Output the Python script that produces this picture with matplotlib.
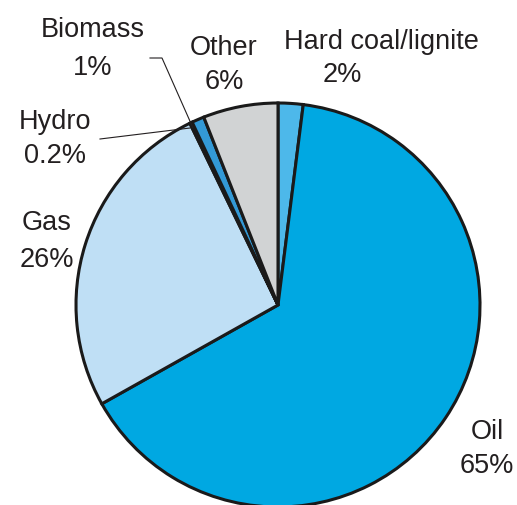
import matplotlib.pyplot as plt

# slices, clockwise from 12 o'clock
labels = ["Hard coal/lignite", "Oil", "Gas", "Hydro", "Biomass", "Other"]
shares = [2, 65, 26, 0.2, 1, 6]
share_txt = ["2%", "65%", "26%", "0.2%", "1%", "6%"]
colors = ["#4db8ea", "#00a8e2", "#bfdff5", "#1a1a1a", "#3399d6", "#d1d3d4"]

plt.rcParams['font.family'] = ['Liberation Sans', 'DejaVu Sans']

fig = plt.figure(figsize=(5.17, 5.05), dpi=100)
ax = fig.add_axes([0, 0, 1, 1])

# pie drawn in pixel coords; y axis flipped so go counterclockwise to look clockwise
ax.pie(shares, colors=colors, startangle=-90, counterclock=True,
       center=(278, 305), radius=202, frame=True,
       wedgeprops=dict(edgecolor='#1a1a1a', linewidth=2.2))
ax.set_xlim(0, 517)
ax.set_ylim(505, 0)
ax.set_aspect('equal')
ax.axis('off')

fs = 19.5
pos = {
    "Hard coal/lignite": ((381, 42), (342, 75)),
    "Oil": ((487, 432), (487, 466)),
    "Gas": ((47, 223), (47, 260)),
    "Hydro": ((55, 122), (55, 156)),
    "Biomass": ((93, 30), (93, 68)),
    "Other": ((224, 48), (224, 82)),
}
for lab, txt in zip(labels, share_txt):
    (x1, y1), (x2, y2) = pos[lab]
    ax.text(x1, y1, lab, ha='center', va='center', fontsize=fs, color='#231f20')
    ax.text(x2, y2, txt, ha='center', va='center', fontsize=fs, color='#231f20')

# leader lines
ax.plot([100, 190], [139, 128], color='#231f20', lw=0.8)
ax.plot([150, 162, 193], [58, 58, 128], color='#231f20', lw=0.8)

fig.savefig('out.png', dpi=100)
